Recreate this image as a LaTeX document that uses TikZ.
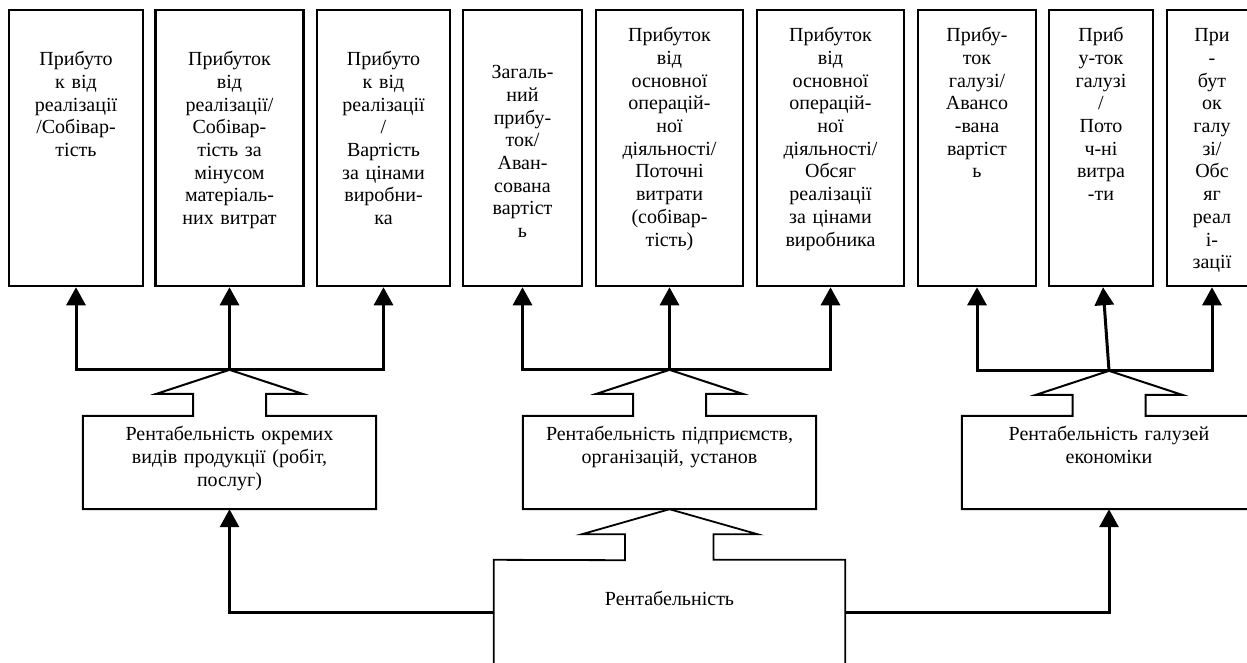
\documentclass[tikz,border=0pt]{standalone}
\usepackage{fontspec}
\setmainfont{Liberation Serif}
\usetikzlibrary{arrows.meta,calc}
\begin{document}
\begin{tikzpicture}[x=1pt,y=-1pt,
  tbox/.style={draw,line width=2.5pt,minimum height=276pt,inner sep=0pt},
  ttext/.style={anchor=base,text width=170pt,align=center,inner sep=0pt,font=\fontsize{20}{22.7}\selectfont},
  mtext/.style={anchor=base,text width=290pt,align=center,inner sep=0pt,font=\fontsize{20}{22.7}\selectfont},
  conn/.style={line width=3pt,line join=miter,-{Triangle[width=19pt,length=18pt]}},
  fork/.style={line width=2pt,line join=miter,miter limit=25},
  bfork/.style={line width=1.8pt,line join=miter,miter limit=25},
  area/.style={minimum height=93pt,inner sep=0pt}
  ]
\useasboundingbox (0,0) rectangle (1247,662);
\clip (0,0) rectangle (1247,662);
% top boxes
\node[tbox,minimum width=134pt] (t1) at (76,148) {};
\node[tbox,minimum width=148pt] (t2) at (229.5,148) {};
\node[tbox,minimum width=133pt] (t3) at (383.5,148) {};
\node[tbox,minimum width=119pt] (t4) at (522.5,148) {};
\node[tbox,minimum width=147pt] (t5) at (669.5,148) {};
\node[tbox,minimum width=147pt] (t6) at (830.5,148) {};
\node[tbox,minimum width=118pt] (t7) at (977,148) {};
\node[tbox,minimum width=104pt] (t8) at (1101,148) {};
\node[tbox,minimum width=90pt] (t9) at (1212,148) {};
% top texts
\path (t1.north) ++(0,57) node[ttext] (x1) {Прибуто\\к від\\реалізації\\/Собівар-\\тість};
\path (t2.north) ++(0,57) node[ttext] (x2) {Прибуток\\від\\реалізації/\\Собівар-\\тість за\\мінусом\\матеріаль-\\них витрат};
\path (t3.north) ++(0,57) node[ttext] (x3) {Прибуто\\к від\\реалізації\\/\\Вартість\\за цінами\\виробни-\\ка};
\path (t4.north) ++(0,70) node[ttext] (x4) {Загаль-\\ний\\прибу-\\ток/\\Аван-\\сована\\вартіст\\ь};
\path (t5.north) ++(0,33) node[ttext] (x5) {Прибуток\\від\\основної\\операцій-\\ної\\діяльності/\\Поточні\\витрати\\(собівар-\\тість)};
\path (t6.north) ++(0,33) node[ttext] (x6) {Прибуток\\від\\основної\\операцій-\\ної\\діяльності/\\Обсяг\\реалізації\\за цінами\\виробника};
\path (t7.north) ++(0,33) node[ttext] (x7) {Прибу-\\ток\\галузі/\\Авансо\\-вана\\вартіст\\ь};
\path (t8.north) ++(0,33) node[ttext] (x8) {Приб\\у-ток\\галузі\\/\\Пото\\ч-ні\\витра\\-ти};
\path (t9.north) ++(0,33) node[ttext] (x9) {При\\-\\бут\\ок\\галу\\зі/\\Обс\\яг\\реал\\і-\\зації};
% middle areas
\node[area,minimum width=293pt] (m1) at (229.5,462.5) {};
\node[area,minimum width=293pt] (m2) at (669.5,462.5) {};
\node[area,minimum width=294pt] (m3) at (1109,462.5) {};
\node[inner sep=0pt,minimum width=351pt,minimum height=104pt] (b) at (669.5,612) {};
% apex coordinates
\coordinate (a1) at ($(m1.north)+(0,-46)$);
\coordinate (a2) at ($(m2.north)+(0,-46)$);
\coordinate (a3) at ($(m3.north)+(0,-45)$);
% middle box outlines with forks
\foreach \m/\a in {m1/a1,m2/a2,m3/a3}{
  \draw[fork] (\a) -- ++(-73,24) -- ++(36.5,0) |- (\m.north west) -- (\m.south west)
    -- (\m.south east) -- (\m.north east) -| ($(\a)+(36.5,24)$) -- ++(36.5,0) -- cycle;
}
% bottom box with fork
\draw[bfork] (b.south west) -- (b.north west) -- ($(m2.south)+(-44.5,51)$) -- ++(0,-26)
  -- ++(-43,0) -- (m2.south) -- ++(88,25) -- ++(-44,0) |- (b.north east) -- (b.south east);
% texts of middle and bottom
\path (m1.north) ++(0,25) node[mtext] (y1) {Рентабельність окремих\\видів продукції (робіт,\\послуг)};
\path (m2.north) ++(0,25) node[mtext] (y2) {Рентабельність підприємств,\\організацій, установ};
\path (m3.north) ++(0,25) node[mtext] (y3) {Рентабельність галузей\\економіки};
\path (b.north) ++(0,46) node[mtext] (z) {Рентабельність};
% connectors to top boxes
\draw[conn] (a1) -| (t1.south);
\draw[conn] (a1) -- (t2.south);
\draw[conn] (a1) -| (t3.south);
\draw[conn] (a2) -| (t4.south);
\draw[conn] (a2) -- (t5.south);
\draw[conn] (a2) -| (t6.south);
\draw[conn] (a3) -| (t7.south);
\draw[conn] (a3) -- ($(t8.south)+(2,0)$);
\draw[conn] (a3) -| (t9.south);
% connectors from bottom box
\draw[conn] (b.west) -| (m1.south);
\draw[conn] (b.east) -| (m3.south);
\end{tikzpicture}
\end{document}
